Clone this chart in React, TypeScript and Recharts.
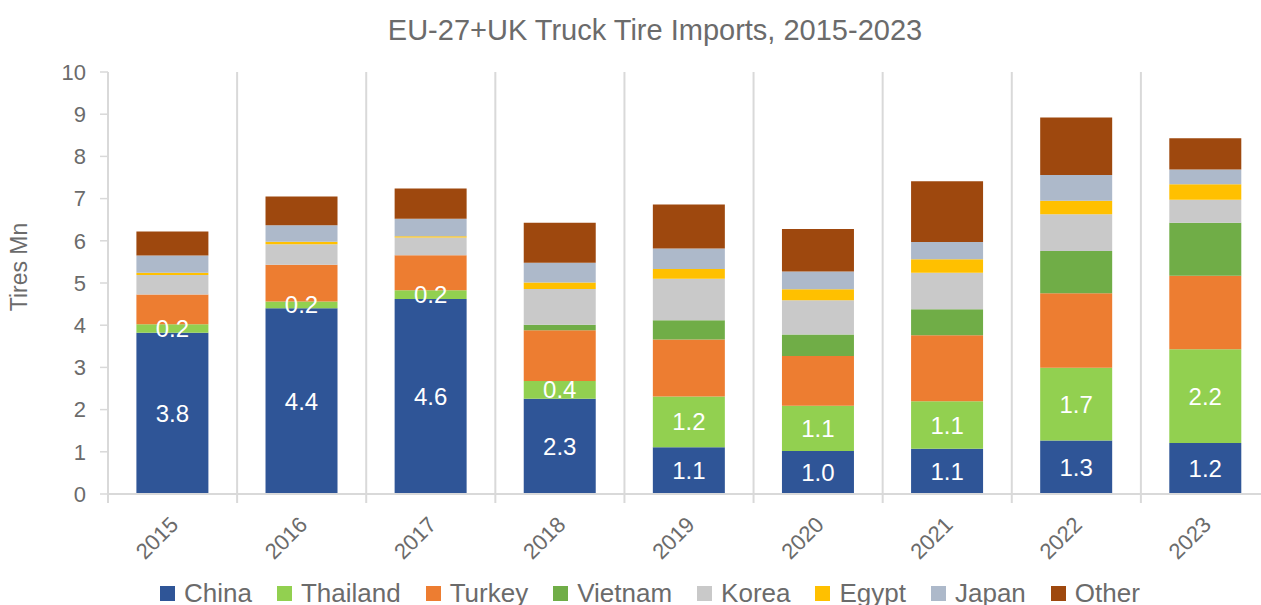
import React from 'react';
import { BarChart, Bar, XAxis, YAxis, CartesianGrid, Legend, LabelList } from 'recharts';

const years = ['2015', '2016', '2017', '2018', '2019', '2020', '2021', '2022', '2023'];
const china = [3.82, 4.40, 4.62, 2.26, 1.11, 1.02, 1.07, 1.27, 1.21];
const thailand = [0.20, 0.16, 0.21, 0.42, 1.20, 1.07, 1.13, 1.72, 2.22];
const turkey = [0.71, 0.87, 0.83, 1.20, 1.35, 1.18, 1.56, 1.77, 1.74];
const vietnam = [0, 0, 0, 0.13, 0.46, 0.51, 0.62, 1.00, 1.26];
const korea = [0.46, 0.49, 0.42, 0.85, 0.98, 0.81, 0.86, 0.87, 0.54];
const egypt = [0.05, 0.06, 0.03, 0.15, 0.23, 0.26, 0.32, 0.32, 0.37];
const japan = [0.41, 0.39, 0.41, 0.47, 0.49, 0.42, 0.41, 0.61, 0.35];
const other = [0.57, 0.68, 0.72, 0.95, 1.04, 1.01, 1.44, 1.36, 0.74];
const yTicks = [0, 1, 2, 3, 4, 5, 6, 7, 8, 9, 10];

const title = 'EU-27+UK Truck Tire Imports, 2015-2023';
const yLabel = 'Tires Mn';

const series = [
  { key: 'China', values: china, color: '#2F5597', label: true },
  { key: 'Thailand', values: thailand, color: '#92D050', label: true },
  { key: 'Turkey', values: turkey, color: '#ED7D31', label: false },
  { key: 'Vietnam', values: vietnam, color: '#70AD47', label: false },
  { key: 'Korea', values: korea, color: '#C9C9C9', label: false },
  { key: 'Egypt', values: egypt, color: '#FFC000', label: false },
  { key: 'Japan', values: japan, color: '#ADB9CA', label: false },
  { key: 'Other', values: other, color: '#9E480E', label: false },
];

const data = years.map((y, i) => {
  const row: any = { year: y };
  series.forEach((s) => {
    row[s.key] = s.values[i];
  });
  return row;
});

const FONT = '"Liberation Sans", Arial, sans-serif';
const TEXT = '#6b6b6b';
const GRID = '#d9d9d9';

const XTick = (props: any) => {
  const { x, y, payload } = props;
  const off = payload && payload.offset != null ? payload.offset : 64.5;
  const tx = x + 7;
  const ty = y + 32;
  return (
    <g>
      <line x1={x - off} y1={y} x2={x - off} y2={y + 9} stroke={GRID} strokeWidth={2} />
      <text
        x={tx}
        y={ty}
        textAnchor="end"
        fill={TEXT}
        fontSize={22}
        fontFamily={FONT}
        transform={`rotate(-45, ${tx}, ${ty})`}
      >
        {payload.value}
      </text>
    </g>
  );
};

const LegendContent = (props: any) => {
  const payload = props.payload || [];
  const ordered = series
    .map((s) => payload.find((p: any) => p.value === s.key || p.dataKey === s.key))
    .filter(Boolean);
  return (
    <div
      style={{
        display: 'flex',
        alignItems: 'center',
        height: 30,
        paddingLeft: 160,
        paddingTop: 6,
        boxSizing: 'border-box',
        fontFamily: FONT,
        fontSize: 26,
        color: TEXT,
        whiteSpace: 'nowrap',
      }}
    >
      {ordered.map((p: any) => (
        <div key={p.value} style={{ display: 'flex', alignItems: 'center', marginRight: 25 }}>
          <span style={{ width: 15, height: 15, background: p.color, display: 'inline-block', marginRight: 9 }} />
          <span>{p.value}</span>
        </div>
      ))}
    </div>
  );
};

const YLabel = (props: any) => {
  const vb = props.viewBox || { x: 0, y: 72, width: 108, height: 422 };
  const cx = vb.x + 21;
  const cy = vb.y + vb.height / 2 - 16;
  return (
    <text
      x={cx}
      y={cy}
      textAnchor="middle"
      dominantBaseline="middle"
      fill={TEXT}
      fontSize={23}
      fontFamily={FONT}
      transform={`rotate(-90, ${cx}, ${cy})`}
    >
      {yLabel}
    </text>
  );
};

export default function App() {
  return (
    <div
      style={{
        position: 'absolute',
        left: 0,
        top: 0,
        width: 1261,
        height: 605,
        overflow: 'hidden',
        background: '#ffffff',
        fontFamily: FONT,
      }}
    >
      <div
        style={{
          position: 'absolute',
          left: 355,
          top: 13,
          width: 600,
          textAlign: 'center',
          fontSize: 29,
          lineHeight: '34px',
          color: TEXT,
          fontFamily: FONT,
          zIndex: 2,
        }}
      >
        {title}
      </div>
      <BarChart
        width={1290}
        height={605}
        data={data}
        margin={{ top: 72, right: 20, left: 0, bottom: 0 }}
        barCategoryGap="22%"
      >
        <CartesianGrid
          horizontal={false}
          vertical={true}
          stroke={GRID}
          strokeWidth={2}
          verticalCoordinatesGenerator={(args: any) => {
            const o = args.offset;
            const n = years.length;
            const arr: number[] = [];
            for (let i = 1; i <= n; i++) arr.push(o.left + (i * o.width) / n);
            return arr;
          }}
        />
        <XAxis
          dataKey="year"
          height={81}
          axisLine={{ stroke: GRID, strokeWidth: 2 }}
          tickLine={false}
          tickSize={0}
          tickMargin={0}
          tick={<XTick />}
          interval={0}
        />
        <YAxis
          width={108}
          domain={[0, 10]}
          ticks={yTicks}
          interval={0}
          allowDataOverflow
          axisLine={{ stroke: GRID, strokeWidth: 2 }}
          tickLine={{ stroke: GRID, strokeWidth: 1.5 }}
          tickSize={8}
          tickMargin={14}
          tick={{ fill: TEXT, fontSize: 22, fontFamily: FONT }}
          label={<YLabel />}
        />
        <Legend
          verticalAlign="bottom"
          height={30}
          wrapperStyle={{ left: 0, width: 1261 }}
          content={<LegendContent />}
        />
        {series.map((s) => (
          <Bar key={s.key} dataKey={s.key} stackId="a" fill={s.color} isAnimationActive={false}>
            {s.label ? (
              <LabelList
                dataKey={s.key}
                position="center"
                fill="#ffffff"
                fontSize={24}
                fontFamily={FONT}
                formatter={(v: any) => Number(v).toFixed(1)}
              />
            ) : null}
          </Bar>
        ))}
      </BarChart>
    </div>
  );
}
